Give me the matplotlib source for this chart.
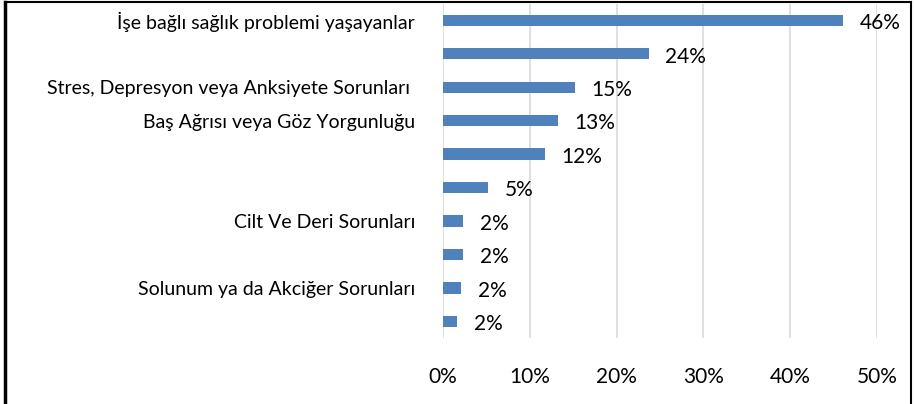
import matplotlib
matplotlib.use('Agg')
import matplotlib.pyplot as plt
from matplotlib.lines import Line2D

plt.rcParams['font.family'] = ['Lato', 'DejaVu Sans']

kategoriler = ['İşe bağlı sağlık problemi yaşayanlar', '',
               'Stres, Depresyon veya Anksiyete Sorunları ',
               'Baş Ağrısı veya Göz Yorgunluğu', '', '',
               'Cilt Ve Deri Sorunları', '',
               'Solunum ya da Akciğer Sorunları', '']
oranlar = [46.1, 23.7, 15.2, 13.2, 11.75, 5.15, 2.34, 2.34, 2.1, 1.65]
xticks = [0, 10, 20, 30, 40, 50]

fig = plt.figure(figsize=(9.14, 4.04), dpi=100)
ax = fig.add_axes([0.4847, 0.163, 0.9595 - 0.4847, 0.991 - 0.163])

y = list(range(len(kategoriler)))
bars = ax.barh(y, oranlar, height=0.34, color='#4F81BD', zorder=3)
ax.set_yticks(y)
ax.set_yticklabels(kategoriler, fontsize=14)
ax.set_ylim(len(kategoriler) - 0.5, -0.5)
ax.set_xlim(0, 50)
ax.set_xticks(xticks)
ax.set_xticklabels(['%d%%' % t for t in xticks], fontsize=15)
ax.tick_params(axis='y', length=0, pad=20)
ax.tick_params(axis='x', length=0, pad=21)
ax.grid(axis='x', color='#D9D9D9', linewidth=1.2, zorder=0)
for s in ax.spines.values():
    s.set_visible(False)

for b, v in zip(bars, oranlar):
    ax.annotate('%.0f%%' % v, (b.get_width(), b.get_y() + b.get_height() / 2),
                xytext=(12, -2), textcoords='offset points',
                ha='left', va='center', fontsize=15)

# cerceve
fig.add_artist(Line2D([5 / 914, 5 / 914], [0, 1 - 2 / 404], color='black', linewidth=2.5))
fig.add_artist(Line2D([5 / 914, 911 / 914], [1 - 2 / 404, 1 - 2 / 404], color='black', linewidth=1.5))
fig.add_artist(Line2D([911 / 914, 911 / 914], [0, 1 - 2 / 404], color='black', linewidth=1.5))

fig.savefig('out.png', dpi=100)
